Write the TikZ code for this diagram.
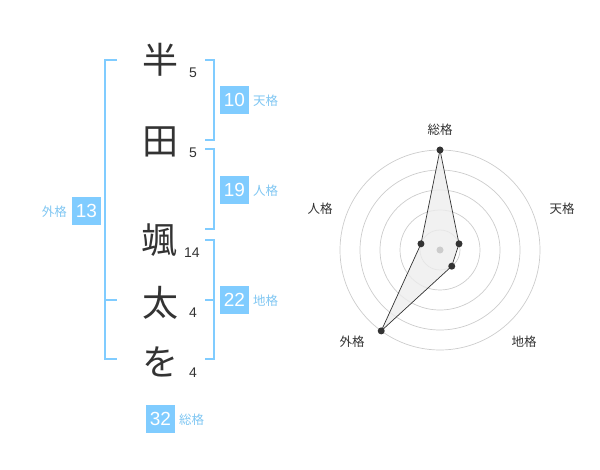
\documentclass[tikz,border=0pt]{standalone}
\usepackage{fontspec}
\usetikzlibrary{calc}
\setmainfont{Liberation Sans}
\newfontfamily\jp{Noto Sans CJK JP}
\definecolor{kblue}{HTML}{80CCFF}
\definecolor{klabel}{HTML}{7FC6F2}
\definecolor{ktext}{HTML}{333333}
\definecolor{kgrid}{HTML}{CCCCCC}
\begin{document}
\begin{tikzpicture}[x=1pt,y=-1pt,
  kanji/.style={text=ktext,font=\jp\fontsize{36}{36}\selectfont,inner sep=0pt},
  strokes/.style={text=ktext,font=\fontsize{14}{14}\selectfont,inner sep=0pt},
  valbox/.style={fill=kblue,text=white,font=\fontsize{19}{19}\selectfont,minimum width=29pt,minimum height=28pt,inner sep=0pt},
  kaku/.style={text=klabel,font=\jp\fontsize{12.5}{12.5}\selectfont,inner sep=0pt},
  brk/.style={draw=kblue,line width=2pt},
  grid/.style={draw=kgrid,line width=0.7pt},
  rlabel/.style={text=ktext,font=\jp\fontsize{12.5}{12.5}\selectfont,inner sep=0pt},
  dot/.style={circle,fill=ktext,minimum size=7pt,inner sep=0pt}]
\useasboundingbox (0,0) rectangle (600,470);
% name characters
\node[kanji] (c1) at (160,60) {半};
\node[kanji] (c2) at (160,142) {田};
\node[kanji] (c3) at (159,240) {颯};
\node[kanji] (c4) at (160,303) {太};
\node[kanji] (c5) at (160,362) {を};
% stroke counts
\node[strokes] (s1) at (193,73) {5};
\node[strokes] (s2) at (193,153) {5};
\node[strokes] (s3) at (192,253) {14};
\node[strokes] (s4) at (193,313) {4};
\node[strokes] (s5) at (193,373) {4};
% brackets
\draw[brk] (117,60) -- (105,60) -- (105,359) -- (117,359);
\draw[brk] (105,300) -- (117,300);
\draw[brk] (205,60) -- (214,60) -- (214,140) -- (205,140);
\draw[brk] (205,149) -- (214,149) -- (214,229) -- (205,229);
\draw[brk] (205,240) -- (214,240) -- (214,359) -- (205,359);
\draw[brk] (205,300) -- (214,300);
% value boxes
\node[valbox] (b10) at (234.5,100) {10};
\node[kaku,anchor=west] (l10) at (253,101) {天格};
\node[valbox] (b19) at (234.5,190) {19};
\node[kaku,anchor=west] (l19) at (253,191) {人格};
\node[valbox] (b22) at (234.5,300) {22};
\node[kaku,anchor=west] (l22) at (253,301) {地格};
\node[valbox] (b13) at (86.5,211) {13};
\node[kaku,anchor=east] (l13) at (67,212) {外格};
\node[valbox] (b32) at (160.5,419) {32};
\node[kaku,anchor=west] (l32) at (179,420) {総格};
% radar chart
\coordinate (rc) at (440,250);
\foreach \r in {20,40,60,80,100} \draw[grid] (rc) circle[radius=\r pt];
\coordinate (pS) at ($(rc)+(-90:100)$);
\coordinate (pT) at ($(rc)+(-18:20)$);
\coordinate (pC) at ($(rc)+(54:20)$);
\coordinate (pG) at ($(rc)+(126:100)$);
\coordinate (pJ) at ($(rc)+(-162:20)$);
\fill[black!7,opacity=0.8] (pS) -- (pT) -- (pC) -- (pG) -- (pJ) -- cycle;
\fill[kgrid] (rc) circle[radius=3.5pt];
\draw[ktext,line width=0.7pt] (pS) -- (pT) -- (pC) -- (pG) -- (pJ) -- cycle;
\node[dot] (dS) at (pS) {};
\node[dot] (dT) at (pT) {};
\node[dot] (dC) at (pC) {};
\node[dot] (dG) at (pG) {};
\node[dot] (dJ) at (pJ) {};
\node[rlabel] (rS) at (440,130) {総格};
\node[rlabel] (rT) at (562,209) {天格};
\node[rlabel] (rJ) at (320,209) {人格};
\node[rlabel] (rG) at (352,342) {外格};
\node[rlabel] (rC) at (524,342) {地格};
\end{tikzpicture}
\end{document}
